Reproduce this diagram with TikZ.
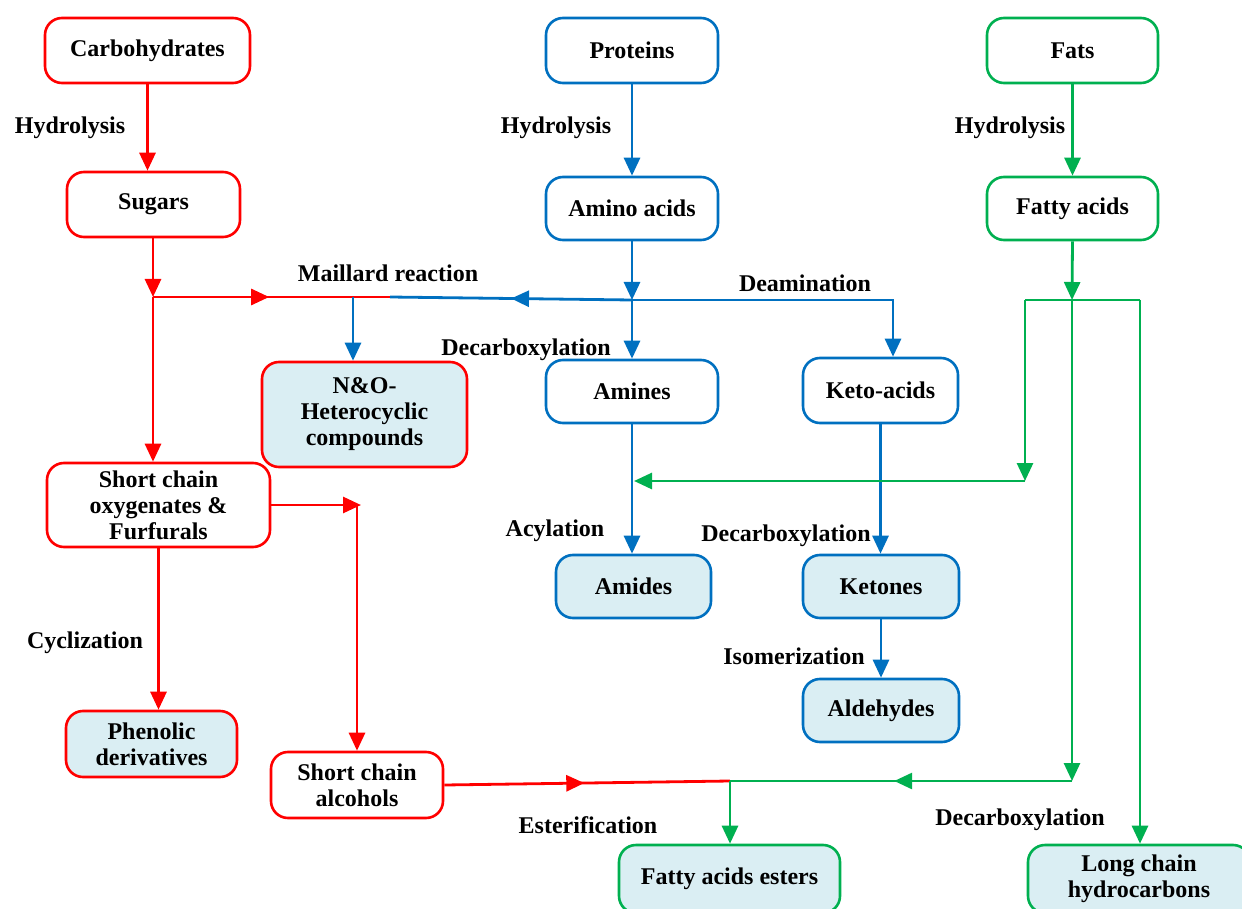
\documentclass[tikz,border=0pt]{standalone}
\usepackage{fontspec}
\setmainfont{Liberation Serif}
\usetikzlibrary{arrows.meta,decorations.markings}
\definecolor{cred}{RGB}{255,0,0}
\definecolor{cblue}{RGB}{0,112,192}
\definecolor{cgreen}{RGB}{0,176,80}
\definecolor{cfill}{RGB}{218,238,243}
\begin{document}
\begin{tikzpicture}[x=1pt,y=-1pt,
  font=\fontsize{24}{26}\selectfont\bfseries,
  box/.style={draw, rounded corners=17pt, line width=2.6pt, align=center, inner sep=0pt},
  rbox/.style={box, draw=cred, fill=white},
  bbox/.style={box, draw=cblue, fill=white},
  gbox/.style={box, draw=cgreen, fill=white},
  filled/.style={fill=cfill},
  tip/.style={-{Triangle[length=18pt,width=16pt]}},
  rl/.style={draw=cred, line width=2.8pt},
  bl/.style={draw=cblue, line width=2.8pt},
  gl/.style={draw=cgreen, line width=2.8pt},
  midtip/.style={postaction={decorate}, decoration={markings,
     mark=at position #1 with {\arrow{Triangle[length=18pt,width=16pt]}}}},
  lbl/.style={inner sep=0pt}
]
\useasboundingbox (0,0) rectangle (1242,909);

% ---- boxes ----
\node[rbox, minimum width=205, minimum height=65] (carb) at (147.5,50.5) {Carbohydrates};
\node[rbox, minimum width=173, minimum height=65] (sugar) at (153.5,204.5) {Sugars};
\node[bbox, minimum width=172, minimum height=65] (prot) at (632,50.5) {Proteins};
\node[bbox, minimum width=172, minimum height=63] (amino) at (632,208.5) {Amino acids};
\node[gbox, minimum width=171, minimum height=65] (fats) at (1072.5,50.5) {Fats};
\node[gbox, minimum width=171, minimum height=63] (fatty) at (1072.5,208.5) {Fatty acids};
\node[rbox, filled, minimum width=205, minimum height=105] (no) at (364.5,414.5) {N\&O-\\Heterocyclic\\compounds};
\node[bbox, minimum width=172, minimum height=63] (amines) at (632,391.5) {Amines};
\node[bbox, minimum width=155, minimum height=65] (keto) at (880.5,390.5) {Keto-acids};
\node[rbox, minimum width=223, minimum height=84] (shortox) at (158.5,505) {Short chain\\oxygenates \&\\Furfurals};
\node[bbox, filled, minimum width=155, minimum height=63] (amides) at (633.5,586.5) {Amides};
\node[bbox, filled, minimum width=156, minimum height=63] (ketones) at (881,586.5) {Ketones};
\node[bbox, filled, minimum width=156, minimum height=63] (ald) at (881,710.5) {Aldehydes};
\node[rbox, filled, minimum width=171, minimum height=66] (phen) at (151.5,744) {Phenolic\\derivatives};
\node[rbox, minimum width=172, minimum height=66] (alc) at (357,785) {Short chain\\alcohols};
\node[gbox, filled, minimum width=221, minimum height=68] (ester) at (729.5,879) {Fatty acids esters};
\node[gbox, filled, minimum width=222, minimum height=68] (longc) at (1139,879) {Long chain\\hydrocarbons};

% ---- labels ----
\node[lbl] (l1) at (70,128) {Hydrolysis};
\node[lbl] (l2) at (556,128) {Hydrolysis};
\node[lbl] (l3) at (1010,128) {Hydrolysis};
\node[lbl] (l4) at (388,273) {Maillard reaction};
\node[lbl] (l5) at (805,283) {Deamination};
\node[lbl] (l6) at (526,350) {Decarboxylation};
\node[lbl] (l7) at (555,531) {Acylation};
\node[lbl] (l8) at (786,536) {Decarboxylation};
\node[lbl] (l9) at (794,656) {Isomerization};
\node[lbl] (l10) at (85,643) {Cyclization};
\node[lbl] (l11) at (588,825) {Esterification};
\node[lbl] (l12) at (1020,820) {Decarboxylation};

% ---- junctions ----
\coordinate (jS) at (153,297);
\coordinate (jM) at (390,297);
\coordinate (jN) at (353,297);
\coordinate (jA) at (632,300);
\coordinate (jK) at (893,300);
\coordinate (jF) at (1072,300);
\coordinate (jFL) at (1025,300);
\coordinate (jFR) at (1140,300);
\coordinate (jFL2) at (1025,481);
\coordinate (jAm) at (634,481);
\coordinate (jO) at (361,505);
\coordinate (jE) at (730,781);
\coordinate (jF2) at (1072,781);

% ---- red connectors ----
\draw[rl, tip] (carb.south) -- (carb.south |- sugar.north);
\draw[rl, tip] (sugar.south -| jS) -- (jS);
\draw[rl, midtip=0.49] (jS) -- (jM);
\draw[rl, tip] (jS) -- (jS |- shortox.north);
\draw[rl, tip] (shortox.east) -- (jO);
\draw[rl, tip] (alc.north |- jO) -- (alc.north);
\draw[rl, tip] (shortox.south) -- (shortox.south |- phen.north);
\draw[rl, midtip=0.49] (alc.east) -- (jE);

% ---- blue connectors ----
\draw[bl, tip] (prot.south) -- (amino.north);
\draw[bl, tip] (amino.south) -- (jA);
\draw[bl, midtip=0.5] (jA) -- (jM);
\draw[bl, tip] (jN) -- (jN |- no.north);
\draw[bl, tip] (jA) -- (amines.north);
\draw[bl, tip] (jA) -- (jK) -- (jK |- keto.north);
\draw[bl, tip] (amines.south) -- (amines.south |- amides.north);
\draw[bl, tip] (keto.south) -- (keto.south |- ketones.north);
\draw[bl, tip] (ketones.south) -- (ald.north);

% ---- green connectors ----
\draw[gl, tip] (fats.south) -- (fatty.north);
\draw[gl, tip] (fatty.south) -- (jF);
\draw[gl] (jFL) -- (jFR);
\draw[gl, tip] (jFL) -- (jFL2);
\draw[gl, tip] (jFL2) -- (jAm);
\draw[gl, tip] (jF) -- (jF2);
\draw[gl, midtip=0.52] (jF2) -- (jE);
\draw[gl, tip] (jE) -- (jE |- ester.north);
\draw[gl, tip] (jFR) -- (jFR |- longc.north);
\end{tikzpicture}
\end{document}
